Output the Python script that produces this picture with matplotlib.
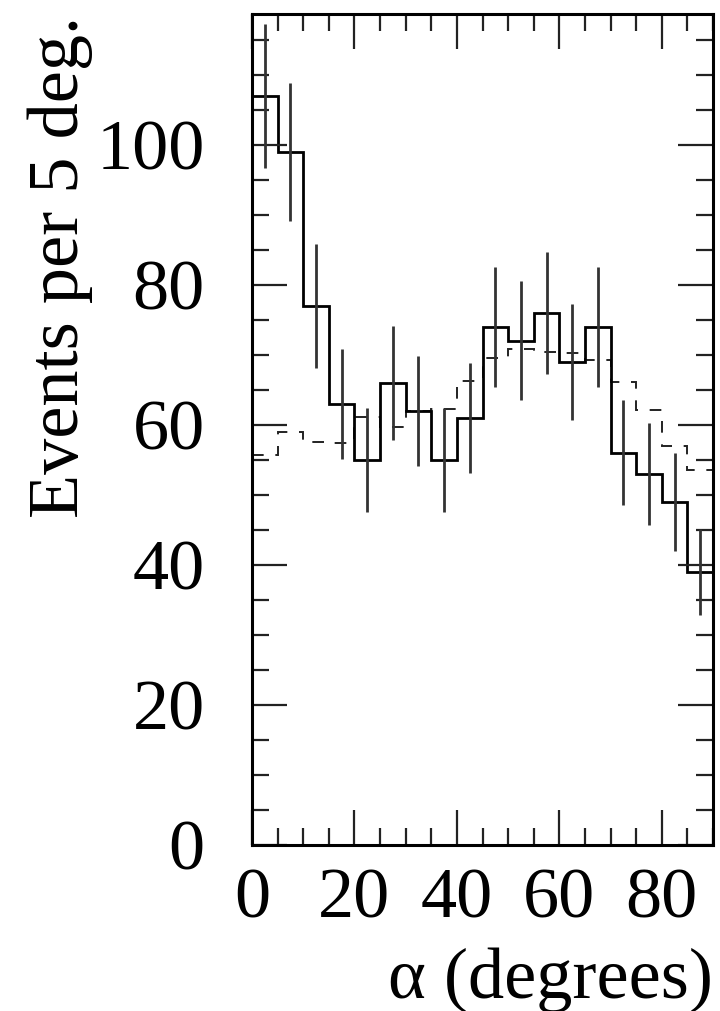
import numpy as np
import matplotlib
matplotlib.use("Agg")
import matplotlib.pyplot as plt
from matplotlib.ticker import MultipleLocator

# ---- data ----
bin_edges = [0, 5, 10, 15, 20, 25, 30, 35, 40, 45, 50, 55, 60, 65, 70, 75, 80, 85, 90]
data_counts = [107, 99, 77, 63, 55, 66, 62, 55, 61, 74, 72, 76, 69, 74, 56, 53, 49, 39]
data_errors = [10.3, 9.9, 8.8, 7.9, 7.4, 8.1, 7.9, 7.4, 7.8, 8.6, 8.5, 8.7, 8.3, 8.6, 7.5, 7.3, 7.0, 6.2]
mc_counts = [55.7, 59.0, 57.6, 57.4, 61.1, 59.7, 62.0, 62.3, 66.3, 69.6, 70.9, 70.4, 70.3, 69.3, 66.1, 62.1, 57.0, 53.6]
x_ticks = [0, 20, 40, 60, 80]
y_ticks = [0, 20, 40, 60, 80, 100]
x_label = "α (degrees)"
y_label = "Events per 5 deg."

plt.rcParams['font.family'] = ['Liberation Serif', 'DejaVu Serif']

W, H = 720, 1011
fig = plt.figure(figsize=(W / 100, H / 100), dpi=100)
ax = fig.add_axes([252 / W, 1 - 845 / H, (713 - 252) / W, (845 - 14) / H])

edges = np.array(bin_edges, dtype=float)
centers = 0.5 * (edges[:-1] + edges[1:])

ax.stairs(mc_counts, edges, baseline=None, color='#222222', lw=1.4,
          linestyle=(0, (6, 6)))
ax.stairs(data_counts, edges, baseline=None, color='black', lw=2.0)
ax.errorbar(centers, data_counts, yerr=data_errors, fmt='none',
            ecolor='#333333', elinewidth=2.0, capsize=0)

ax.set_xlim(0, 90)
ax.set_ylim(0, 118.7)
ax.set_xticks(x_ticks)
ax.set_yticks(y_ticks)
ax.xaxis.set_minor_locator(MultipleLocator(5))
ax.yaxis.set_minor_locator(MultipleLocator(5))

ax.tick_params(which='both', direction='in', top=True, right=True,
               color='#222222')
ax.tick_params(which='major', length=25, width=1.6, labelsize=52)
ax.tick_params(which='minor', length=12, width=1.6)
ax.tick_params(axis='x', which='major', pad=16)
ax.tick_params(axis='y', which='major', pad=34)
for s in ax.spines.values():
    s.set_linewidth(2.2)

fig.text(713 / W, 1 - 980 / H, x_label, ha='right', va='center', fontsize=52)
fig.text(60 / W, 1 - 16 / H, y_label, ha='center', va='top', rotation=90,
         fontsize=52)

fig.savefig("out.png", dpi=100)
